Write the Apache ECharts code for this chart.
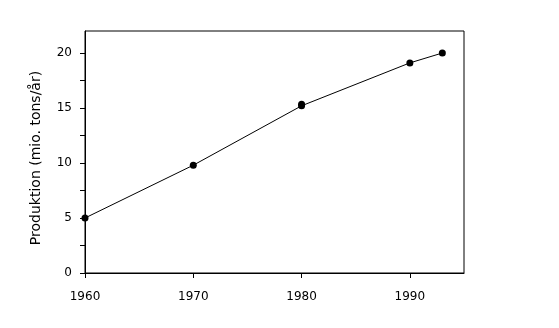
<!DOCTYPE html>
<html>
<head>
<meta charset="utf-8">
<script src="https://cdn.jsdelivr.net/npm/echarts@6/dist/echarts.min.js"></script>
<style>html,body{margin:0;padding:0;background:#fff}#c{width:559px;height:328px}</style>
</head>
<body>
<div id="c"></div>
<script>
const years = [1960, 1970, 1980, 1980, 1990, 1993];
const production = [5.0, 9.8, 15.2, 15.35, 19.1, 20.0];
const xTickLabels = [1960, 1970, 1980, 1990];
const yTickLabels = [0, 5, 10, 15, 20];
const yTickMarks = [0, 2.5, 5, 7.5, 10, 12.5, 15, 17.5, 20];
const yTitle = 'Produktion (mio. tons/år)';

const font = 'DejaVu Sans';
const chart = echarts.init(document.getElementById('c'), null, {renderer: 'canvas'});
chart.setOption({
  animation: false,
  backgroundColor: '#fff',
  grid: {left: 85, right: 95, top: 31, bottom: 55, show: true, borderColor: '#000', borderWidth: 1, backgroundColor: 'transparent'},
  xAxis: {
    type: 'value', min: 1960, max: 1995,
    axisLine: {show: true, onZero: false, lineStyle: {color: '#000', width: 1}},
    axisTick: {show: true, length: 5, customValues: xTickLabels, lineStyle: {color: '#000'}},
    axisLabel: {customValues: xTickLabels, formatter: v => String(v), margin: 18, color: '#000', fontFamily: font, fontSize: 12},
    splitLine: {show: false}
  },
  yAxis: {
    type: 'value', min: 0, max: 22,
    name: yTitle, nameLocation: 'middle', nameGap: 42,
    nameTextStyle: {color: '#000', fontFamily: font, fontSize: 14, padding: [0, 12, 0, 0]},
    axisLine: {show: true, lineStyle: {color: '#000', width: 1}},
    axisTick: {show: true, length: 5, customValues: yTickMarks, lineStyle: {color: '#000'}},
    axisLabel: {customValues: yTickLabels, formatter: v => String(v), margin: 13, color: '#000', fontFamily: font, fontSize: 12},
    splitLine: {show: false}
  },
  series: [{
    type: 'line',
    data: years.map((y, i) => [y, production[i]]),
    symbol: 'circle', symbolSize: 7,
    itemStyle: {color: '#000'},
    lineStyle: {color: '#000', width: 1}
  }]
});
</script>
</body>
</html>
